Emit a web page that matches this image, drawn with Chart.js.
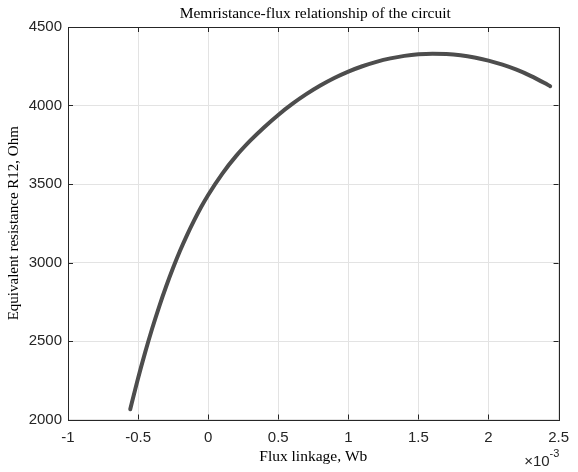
<!DOCTYPE html>
<html>
<head>
<meta charset="utf-8">
<script src="https://cdn.jsdelivr.net/npm/chart.js@4.4.1/dist/chart.umd.min.js"></script>
<style>
  html, body { margin: 0; padding: 0; background: #ffffff; }
  #wrap { width: 578px; height: 472px; }
</style>
</head>
<body>
<div id="wrap"><canvas id="memChart" width="578" height="472"></canvas></div>
<script>
// flux linkage (x 1e-3 Wb) and equivalent resistance (Ohm)
const fluxValues = [-0.556, -0.5, -0.45, -0.4, -0.35, -0.3, -0.25, -0.2, -0.15, -0.1, -0.05, 0,
    0.1, 0.2, 0.3, 0.4, 0.5, 0.6, 0.7, 0.8, 0.9, 1.0, 1.1, 1.2, 1.3, 1.4, 1.5, 1.6,
    1.7, 1.8, 1.9, 2.0, 2.1, 2.2, 2.3, 2.4, 2.44];
const resistanceValues = [2065, 2263, 2426, 2578, 2718, 2847, 2966, 3076, 3176, 3268, 3353, 3430,
    3565, 3679, 3776, 3862, 3940, 4010, 4072, 4127, 4175, 4216, 4250, 4278, 4300, 4316, 4326, 4330,
    4328, 4320, 4306, 4286, 4260, 4228, 4189, 4143, 4123];

const xTicks = [-1, -0.5, 0, 0.5, 1, 1.5, 2, 2.5];
const yTicks = [2000, 2500, 3000, 3500, 4000, 4500];

const chartTitle = "Memristance-flux relationship of the circuit";
const xLabel = "Flux linkage, Wb";
const yLabel = "Equivalent resistance R12, Ohm";

const axisColor = "#262626";
const serif = "'Liberation Serif', 'Times New Roman', serif";
const sans = "'Liberation Sans', Arial, sans-serif";

const points = fluxValues.map((x, i) => ({ x: x, y: resistanceValues[i] }));

// MATLAB style box: border, inward ticks on all sides, title and exponent
const matlabBox = {
    id: "matlabBox",
    afterDraw(chart) {
        const ctx = chart.ctx;
        const area = chart.chartArea;
        const xs = chart.scales.x;
        const ys = chart.scales.y;
        const tick = 5;

        ctx.save();
        ctx.strokeStyle = axisColor;
        ctx.lineWidth = 1;
        ctx.beginPath();
        xTicks.forEach(v => {
            const px = Math.round(xs.getPixelForValue(v)) + 0.5;
            ctx.moveTo(px, area.bottom);
            ctx.lineTo(px, area.bottom - tick);
            ctx.moveTo(px, area.top);
            ctx.lineTo(px, area.top + tick);
        });
        yTicks.forEach(v => {
            const py = Math.round(ys.getPixelForValue(v)) + 0.5;
            ctx.moveTo(area.left, py);
            ctx.lineTo(area.left + tick, py);
            ctx.moveTo(area.right, py);
            ctx.lineTo(area.right - tick, py);
        });
        ctx.stroke();
        ctx.strokeRect(Math.round(area.left) + 0.5, Math.round(area.top) + 0.5,
            Math.round(area.right - area.left), Math.round(area.bottom - area.top));

        // title
        ctx.fillStyle = "#000000";
        ctx.font = "15.5px " + serif;
        ctx.textAlign = "center";
        ctx.textBaseline = "middle";
        ctx.fillText(chartTitle, (area.left + area.right) / 2 + 2, 14);

        // x10^-3 exponent label
        ctx.fillStyle = axisColor;
        ctx.font = "15px " + sans;
        ctx.textAlign = "right";
        ctx.fillText("\u00d710", area.right - 9, 462);
        ctx.font = "11px " + sans;
        ctx.textAlign = "left";
        ctx.fillText("-3", area.right - 9, 454);
        ctx.restore();
    }
};

new Chart(document.getElementById("memChart"), {
    type: "scatter",
    data: {
        datasets: [{
            label: "R12",
            data: points,
            showLine: true,
            borderColor: "#4d4d4d",
            borderWidth: 4,
            borderCapStyle: "round",
            borderJoinStyle: "round",
            pointRadius: 0,
            cubicInterpolationMode: "monotone",
            fill: false
        }]
    },
    options: {
        responsive: false,
        animation: false,
        layout: { padding: { left: 0, right: 11, top: 27, bottom: 0 } },
        plugins: {
            legend: { display: false },
            tooltip: { enabled: false }
        },
        scales: {
            x: {
                type: "linear",
                min: -1,
                max: 2.5,
                afterBuildTicks: scale => { scale.ticks = xTicks.map(v => ({ value: v })); },
                afterFit: scale => { scale.height = 52.5; },
                grid: { color: "#e3e3e3", drawTicks: false },
                border: { display: false },
                ticks: {
                    color: axisColor,
                    font: { family: sans, size: 15 },
                    padding: 9,
                    maxRotation: 0,
                    callback: v => String(v)
                },
                title: {
                    display: true,
                    text: xLabel,
                    color: "#000000",
                    font: { family: serif, size: 15.5 },
                    padding: { top: 0, bottom: 6 }
                }
            },
            y: {
                type: "linear",
                min: 2000,
                max: 4500,
                afterBuildTicks: scale => { scale.ticks = yTicks.map(v => ({ value: v })); },
                afterFit: scale => { scale.width = 68; },
                grid: { color: "#e3e3e3", drawTicks: false },
                border: { display: false },
                ticks: {
                    color: axisColor,
                    font: { family: sans, size: 15 },
                    padding: 6,
                    callback: v => String(v)
                },
                title: {
                    display: true,
                    text: yLabel,
                    color: "#000000",
                    font: { family: serif, size: 15 },
                    padding: { top: 5, bottom: 0 }
                }
            }
        }
    },
    plugins: [matlabBox]
});
</script>
</body>
</html>
